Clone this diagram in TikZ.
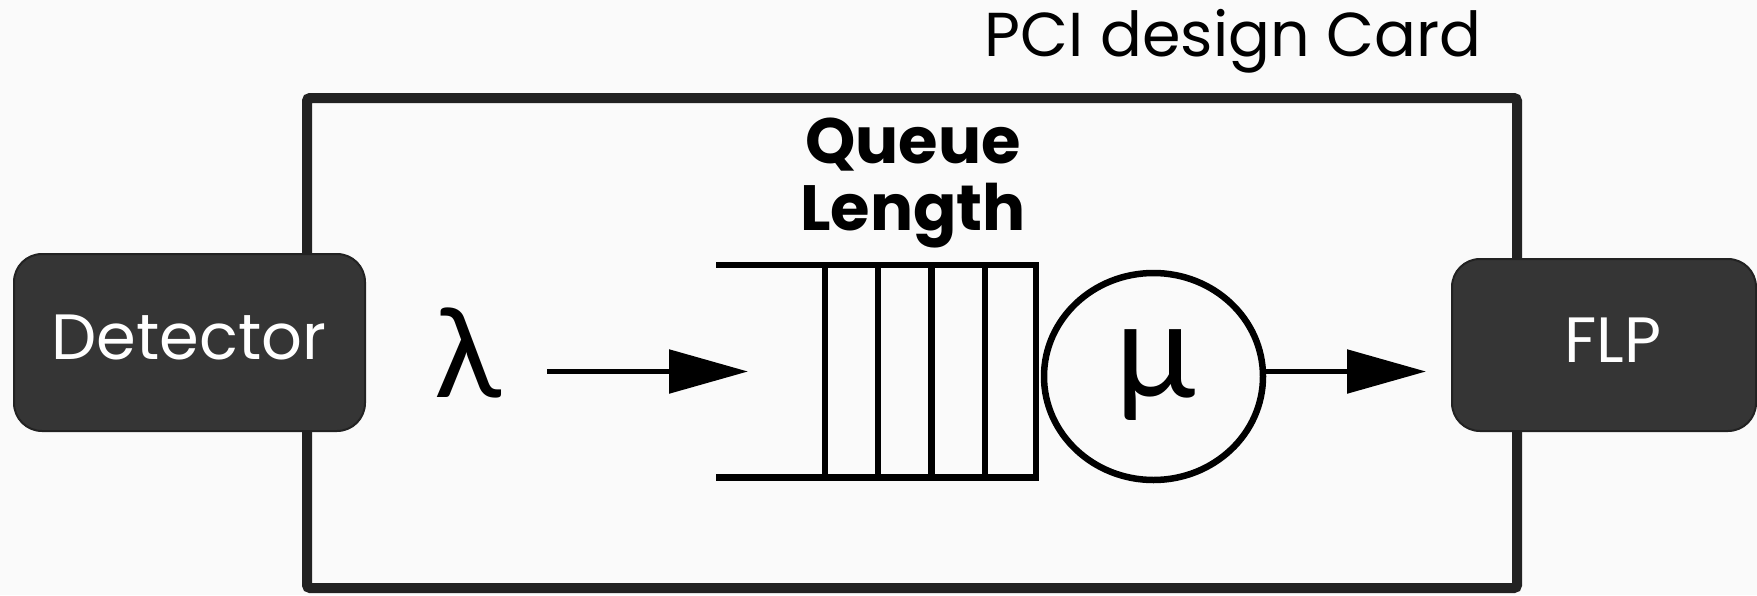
\documentclass[tikz,border=0pt]{standalone}
\usepackage{fontspec}
\setmainfont{Poppins}
\newfontfamily\greekfont{Lato}
\usetikzlibrary{arrows.meta,shapes.geometric}
\definecolor{bg}{HTML}{FAFAFA}
\definecolor{boxfill}{HTML}{353535}
\definecolor{framecol}{HTML}{222222}
\begin{document}
\begin{tikzpicture}[x=1pt,y=-1pt,
  darkbox/.style={draw=framecol, line width=2pt, fill=boxfill, rounded corners=28pt, inner sep=0pt},
  boxtext/.style={text=white, anchor=base, inner sep=0pt, font=\fontsize{64}{70}\selectfont},
  qline/.style={line width=6.5pt, black, line join=miter},
  arr/.style={line width=5.5pt, black, -{Triangle[length=79pt, width=43pt]}}]
\useasboundingbox[fill=bg] (0,0) rectangle (1757,595);
% card frame
\draw[framecol, line width=10pt, rounded corners=3pt] (307,98) rectangle (1517,588);
\node[anchor=base, inner sep=0pt, font=\fontsize{62}{70}\selectfont] (card) at (1233,56) {PCI design Card};
% detector and FLP
\node[darkbox, minimum width=351pt, minimum height=177pt] (det) at (189.5,342.5) {};
\node[boxtext] (detl) at (189,359) {Detector};
\node[darkbox, minimum width=304pt, minimum height=172pt] (flp) at (1604,345) {};
\node[boxtext] (flpl) at (1613,362) {FLP};
% lambda
\node[anchor=base, inner sep=0pt, font=\greekfont\fontsize{124}{130}\selectfont] (lam) at (468,397) {λ};
% queue
\draw[qline] (716,265) -- (1036,265) -- (1036,477.5) -- (716,477.5);
\foreach \x in {825,878,931.5,985} \draw[qline] (\x,265) -- (\x,477.5);
\node[anchor=base, inner sep=0pt, font=\bfseries\fontsize{64}{67}\selectfont] (ql) at (913,163) {Queue};
\node[anchor=base, inner sep=0pt, font=\bfseries\fontsize{64}{67}\selectfont] (ql2) at (913,230) {Length};
% server
\node[draw, ellipse, line width=6.5pt, minimum width=219pt, minimum height=207pt, inner sep=0pt] (srv) at (1153.5,376.5) {};
\node[anchor=base, inner sep=0pt, font=\greekfont\fontsize{134}{140}\selectfont] (mu) at (1156,397) {μ};
% arrows
\coordinate (a1s) at (547,371.5);
\coordinate (a1e) at (748,371.5);
\coordinate (a2e) at (1426,371.5);
\draw[arr] (a1s) -- (a1e);
\draw[arr] (a2e -| srv.east) -- (a2e);
\end{tikzpicture}
\end{document}
